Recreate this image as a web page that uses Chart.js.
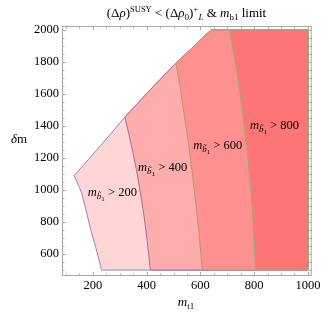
<!DOCTYPE html>
<html lang="en">
<head>
    <meta charset="UTF-8">
    <title>m_b1 limit</title>
    <script src="https://cdn.jsdelivr.net/npm/chart.js"></script>
    <style>
        body {
            margin: 0;
            background-color: #ffffff;
        }

        .chart-container {
            width: 328px;
            height: 319px;
        }
    </style>
</head>
<body>
    <div class="chart-container">
        <canvas id="limitChart"></canvas>
    </div>
    <script>
        // tick labels
        const xTicks = [200, 400, 600, 800, 1000];
        const yTicks = [600, 800, 1000, 1200, 1400, 1600, 1800, 2000];
        const mb1Limits = [200, 400, 600, 800];

        // upper-left edge of the allowed region (m_t1, dm)
        const edgeX = [130, 230, 319, 415, 509, 580, 639];
        const edgeY = [1090, 1280, 1456, 1630, 1794, 1905, 2000];

        // contours m_b1 = 200 / 400 / 600 / 800, read bottom -> top
        const c200X = [232, 220, 205, 189, 175, 158, 145, 130];
        const c200Y = [500, 583, 675, 771, 870, 981, 1035, 1090];
        const c400X = [414, 406, 397, 387, 375, 362, 347, 333, 319];
        const c400Y = [500, 625, 750, 875, 1000, 1125, 1250, 1355, 1456];
        const c600X = [607, 594, 577, 559, 537, 524, 509];
        const c600Y = [500, 750, 1000, 1250, 1500, 1650, 1794];
        const c800X = [805, 798, 788, 774, 756, 735, 709];
        const c800Y = [500, 750, 1000, 1250, 1500, 1750, 2000];

        const xMax = 1000, yMin = 500, yMax = 2000;

        // where the "m_b1 > ..." labels start
        const labelX = [181, 368, 573, 784];
        const labelY = [987, 1146, 1281, 1406];

        const fills = ['#ffd5d5', '#ffacac', '#ff9090', '#ff7575'];
        const borders = ['#8a88c8', '#9a72a0', '#b39a6c', '#8fae7c'];

        const serif = '"Liberation Serif", "DejaVu Serif", serif';
        const R = s => s + 'px ' + serif;
        const I = s => 'italic ' + s + 'px ' + serif;

        function pts(xs, ys) {
            return xs.map((x, i) => ({x: x, y: ys[i]}));
        }

        const contours = [pts(c200X, c200Y), pts(c400X, c400Y), pts(c600X, c600Y), pts(c800X, c800Y)];
        const edge = pts(edgeX, edgeY);
        // first edge point above the top of each contour
        const edgeStart = [1, 3, 5, 7];

        function region(k) {
            const c = contours[k];
            const p = c.concat(edge.slice(edgeStart[k]));
            p.push({x: xMax, y: yMax}, {x: xMax, y: yMin}, c[0]);
            return p;
        }

        function drawRich(ctx, parts, x, y, align) {
            let w = 0;
            parts.forEach(p => { ctx.font = p.f; w += ctx.measureText(p.t).width; });
            let cx = align === 'center' ? x - w / 2 : x;
            parts.forEach(p => {
                ctx.font = p.f;
                ctx.fillText(p.t, cx, y + (p.dy || 0));
                cx += ctx.measureText(p.t).width;
            });
        }

        const frameAndText = {
            id: 'frameAndText',
            afterDraw(chart) {
                const {ctx, chartArea: a, scales: {x, y}} = chart;
                ctx.save();
                ctx.strokeStyle = '#a9a9a9';
                ctx.lineWidth = 1;
                ctx.strokeRect(a.left + 0.5, a.top + 0.5, a.right - a.left - 1, a.bottom - a.top - 1);
                ctx.beginPath();
                for (let v = 100; v <= 1000; v += 50) {
                    const px = Math.round(x.getPixelForValue(v)) + 0.5;
                    const len = v % 200 === 0 ? 4 : 2.5;
                    ctx.moveTo(px, a.bottom); ctx.lineTo(px, a.bottom - len);
                    ctx.moveTo(px, a.top); ctx.lineTo(px, a.top + len);
                }
                for (let v = 500; v <= 2000; v += 50) {
                    const py = Math.round(y.getPixelForValue(v)) + 0.5;
                    const len = v % 200 === 0 ? 4 : 2.5;
                    ctx.moveTo(a.left, py); ctx.lineTo(a.left + len, py);
                    ctx.moveTo(a.right, py); ctx.lineTo(a.right - len, py);
                }
                ctx.stroke();

                ctx.fillStyle = '#000';
                ctx.textBaseline = 'alphabetic';
                // title
                drawRich(ctx, [
                    {t: '(\u0394', f: R(13)}, {t: '\u03c1', f: I(13)}, {t: ')', f: R(13)},
                    {t: 'SUSY', f: R(8.5), dy: -5},
                    {t: ' < (\u0394', f: R(13)}, {t: '\u03c1', f: I(13)}, {t: '0', f: R(9), dy: 3},
                    {t: ')', f: R(13)}, {t: '+', f: R(9), dy: -5}, {t: 'L', f: I(9), dy: 3},
                    {t: ' & ', f: R(13)}, {t: 'm', f: I(13)}, {t: 'b1', f: R(9), dy: 3},
                    {t: ' limit', f: R(13)}
                ], 186.5, 17, 'center');
                // axis titles
                drawRich(ctx, [{t: '\u03b4', f: I(13)}, {t: 'm', f: R(13)}], 19, 143, 'center');
                drawRich(ctx, [{t: 'm', f: I(13)}, {t: 't1', f: R(9), dy: 3}], 186, 306, 'center');
                // band labels
                mb1Limits.forEach((m, i) => {
                    const px = x.getPixelForValue(labelX[i]);
                    const py = y.getPixelForValue(labelY[i]) + 4;
                    drawRich(ctx, [
                        {t: 'm', f: I(12.5)}, {t: 'b\u0303', f: I(9), dy: 3}, {t: '1', f: R(7), dy: 5},
                        {t: ' > ' + m, f: R(12.5)}
                    ], px, py, 'left');
                });
                ctx.restore();
            }
        };

        const ctx = document.getElementById('limitChart').getContext('2d');
        const chartInstance = new Chart(ctx, {
            type: 'line',
            data: {
                datasets: mb1Limits.map((m, k) => ({
                    label: 'm_b1 > ' + m,
                    data: region(k),
                    fill: 'shape',
                    backgroundColor: fills[k],
                    borderColor: borders[k],
                    borderWidth: 1,
                    pointRadius: 0,
                    tension: 0,
                    order: 4 - k
                }))
            },
            options: {
                responsive: true,
                maintainAspectRatio: false,
                animation: false,
                indexAxis: 'y',
                layout: {
                    padding: {top: 26, right: 16.3, left: 0, bottom: 0}
                },
                scales: {
                    x: {
                        type: 'linear',
                        min: 85,
                        max: 1014,
                        grid: {display: false, drawTicks: false},
                        border: {display: false},
                        ticks: {
                            font: {family: serif, size: 12.5},
                            color: '#000',
                            padding: 2,
                            maxRotation: 0,
                            callback: v => String(v)
                        },
                        afterBuildTicks: s => { s.ticks = xTicks.map(v => ({value: v})); },
                        afterFit: s => { s.height = 43; }
                    },
                    y: {
                        type: 'linear',
                        min: 463,
                        max: 2025,
                        grid: {display: false, drawTicks: false},
                        border: {display: false},
                        ticks: {
                            font: {family: serif, size: 12.5},
                            color: '#000',
                            padding: 3,
                            callback: v => String(v)
                        },
                        afterBuildTicks: s => { s.ticks = yTicks.map(v => ({value: v})); },
                        afterFit: s => { s.width = 62; }
                    }
                },
                plugins: {
                    legend: {display: false},
                    tooltip: {enabled: false}
                }
            },
            plugins: [frameAndText]
        });
    </script>
</body>
</html>
